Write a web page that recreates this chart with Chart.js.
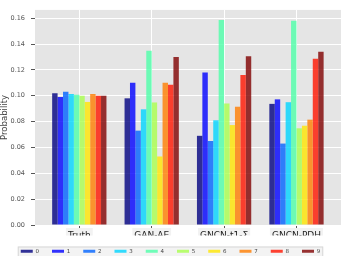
<!DOCTYPE html>
<html>
<head>
<meta charset="utf-8">
<script src="https://cdn.jsdelivr.net/npm/chart.js@4/dist/chart.umd.min.js"></script>
<style>
  html, body { margin: 0; padding: 0; background: #ffffff; }
  #wrap { width: 341px; height: 256px; }
</style>
</head>
<body>
<div id="wrap"><canvas id="c" width="341" height="256"></canvas></div>
<script>
// ---- data ----
const categories = ['Truth', 'GAN-AE', 'GNCN-t1-\u03A3', 'GNCN-PDH'];
const digitLabels = ['0', '1', '2', '3', '4', '5', '6', '7', '8', '9'];
const truth   = [0.102, 0.099, 0.103, 0.1013, 0.1008, 0.1000, 0.0952, 0.1013, 0.1000, 0.1000];
const ganAE   = [0.098, 0.110, 0.073, 0.0895, 0.1348, 0.0948, 0.053, 0.110, 0.1085, 0.130];
const gncnT1  = [0.069, 0.118, 0.065, 0.081, 0.1585, 0.094, 0.0773, 0.0915, 0.116, 0.1306];
const gncnPDH = [0.0937, 0.0972, 0.063, 0.095, 0.158, 0.0748, 0.0768, 0.0815, 0.1287, 0.134];
const yTicks = [0, 0.02, 0.04, 0.06, 0.08, 0.10, 0.12, 0.14, 0.16];

// ---- styles ----
const jetColors = [
  'rgba(0,0,128,0.8)', 'rgba(0,0,255,0.8)', 'rgba(0,99,255,0.8)', 'rgba(0,212,255,0.8)',
  'rgba(78,255,169,0.8)', 'rgba(169,255,78,0.8)', 'rgba(255,230,0,0.8)', 'rgba(255,125,0,0.8)',
  'rgba(255,20,0,0.8)', 'rgba(128,0,0,0.8)'
];

const groups = [truth, ganAE, gncnT1, gncnPDH];
const datasets = digitLabels.map((d, i) => ({
  label: d,
  data: groups.map((g, ci) => ({ x: ci, y: g[i] })),
  backgroundColor: jetColors[i],
  borderWidth: 0,
  categoryPercentage: 0.75,
  barPercentage: 1.0
}));

const bgPlugin = {
  id: 'bg',
  beforeDraw(chart) {
    const { ctx, chartArea: a, legend } = chart;
    ctx.save();
    ctx.fillStyle = '#E5E5E5';
    ctx.fillRect(a.left, a.top, a.right - a.left, a.bottom - a.top);
    if (legend && legend.lineWidths) {
      const p = legend.options.labels.padding;
      const lw = legend.lineWidths[0];
      const x0 = (legend.left + p + legend.right - lw) / 2;
      const x1 = x0 + lw - p;
      const y0 = legend.top + p - 2;
      ctx.fillStyle = '#F3F3F3';
      ctx.strokeStyle = '#D8D8D8';
      ctx.lineWidth = 1;
      ctx.fillRect(x0 - 3, y0, x1 - x0 + 6, 20);
      ctx.strokeRect(x0 - 2.5, y0 + 0.5, x1 - x0 + 5, 20);
    }
    ctx.restore();
  }
};

new Chart(document.getElementById('c'), {
  type: 'bar',
  data: { datasets },
  options: {
    responsive: false,
    animation: false,
    devicePixelRatio: 1,
    layout: { padding: { left: 0, right: 0, top: 0, bottom: -8 } },
    plugins: {
      legend: {
        position: 'bottom',
        labels: {
          boxWidth: 12,
          boxHeight: 3,
          padding: 13,
          color: '#444',
          font: { family: 'DejaVu Sans', size: 5.5 }
        }
      },
      tooltip: { enabled: false }
    },
    scales: {
      x: {
        type: 'linear',
        offset: false,
        min: -0.612,
        max: 3.615,
        afterBuildTicks(s) { s.ticks = categories.map((c, i) => ({ value: i })); },
        afterFit(s) { s.height = 39 - s.chart.legend.height; },
        grid: { offset: false, color: '#FFFFFF', lineWidth: 1, tickLength: 3, tickColor: '#555' },
        border: { display: false },
        ticks: {
          callback: (v) => categories[v],
          color: '#222',
          padding: 2,
          font: { family: 'DejaVu Sans', size: 9 },
          showLabelBackdrop: true,
          backdropColor: '#F2F2F2',
          backdropPadding: 2,
          maxRotation: 0,
          autoSkip: false
        }
      },
      y: {
        min: 0,
        max: 0.1664,
        afterBuildTicks(s) { s.ticks = yTicks.map(v => ({ value: v })); },
        afterFit(s) { s.width = 35; },
        grid: { color: '#FFFFFF', lineWidth: 1, tickLength: 4, tickColor: '#555' },
        border: { display: false },
        title: {
          display: true,
          text: 'Probability',
          color: '#444',
          padding: 0,
          font: { family: 'DejaVu Sans', size: 8.5 }
        },
        ticks: {
          callback: (v) => v.toFixed(2),
          color: '#555',
          padding: 6,
          font: { family: 'DejaVu Sans', size: 6.5 }
        }
      }
    }
  },
  plugins: [bgPlugin]
});
</script>
</body>
</html>
